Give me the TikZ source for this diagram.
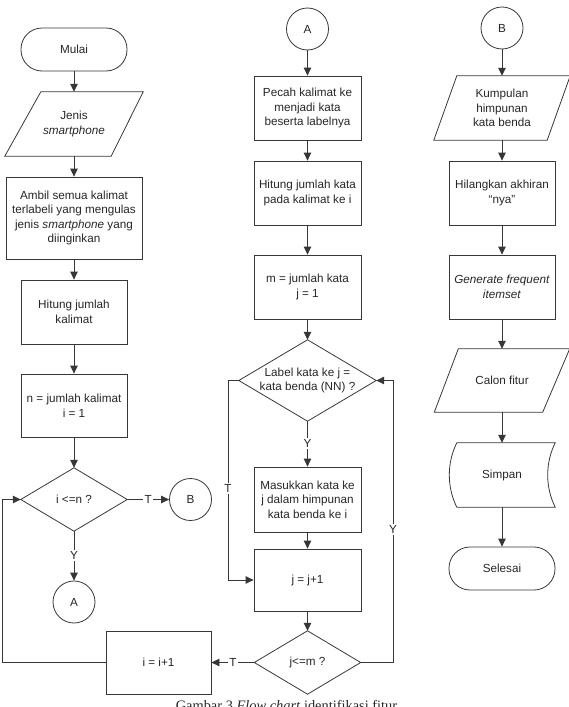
\documentclass[tikz,border=0pt]{standalone}
\usepackage{fontspec}
\setmainfont{Liberation Sans}
\newfontfamily\capfont{Liberation Serif}
\usetikzlibrary{arrows.meta}
\definecolor{linec}{RGB}{55,55,55}
\tikzset{
  base/.style={inner sep=0pt, align=center, font=\fontsize{11.7}{14.6}\selectfont, text=black!85},
  proc/.style={base, rectangle, draw=linec, line width=0.8pt},
  term/.style={base, rectangle, draw=linec, line width=0.8pt, rounded corners=21pt, minimum width=106pt, minimum height=43pt},
  conn/.style={base, circle, draw=linec, line width=0.8pt, minimum size=42pt},
  shell/.style={base, rectangle},
  outl/.style={draw=linec, line width=0.8pt},
  arr/.style={draw=linec, line width=0.8pt, -{Triangle[length=8pt,width=7.5pt]}},
  lab/.style={base, fill=white, inner sep=1.5pt},
}
\begin{document}
\begin{tikzpicture}[x=1pt,y=-1pt]
\useasboundingbox (0,0) rectangle (569,707);
% ---------- left column
\node[term] (mulai) at (74,49.5) {Mulai};
\node[shell, minimum width=138pt, minimum height=64pt] (jenis) at (74,124) {Jenis\\\textit{smartphone}};
\node[proc, minimum width=136pt, minimum height=82pt] (ambil) at (74,218) {Ambil semua kalimat\\terlabeli yang mengulas\\jenis \textit{smartphone} yang\\diinginkan};
\node[proc, minimum width=106pt, minimum height=64pt] (hitung) at (74,312) {Hitung jumlah\\kalimat};
\node[proc, minimum width=106pt, minimum height=63pt] (nset) at (74,405.5) {n = jumlah kalimat\\i = 1};
\node[shell, minimum width=106pt, minimum height=63pt] (dec1) at (74,499.5) {i <=n ?};
\node[conn] (conB1) at (190.5,499.5) {B};
\node[conn] (conA1) at (74,602) {A};
\node[proc, minimum width=105pt, minimum height=63pt] (iinc) at (158.5,662.5) {i = i+1};
% ---------- middle column
\node[conn] (conA2) at (307.5,29) {A};
\node[proc, minimum width=107pt, minimum height=64pt] (pecah) at (307.5,108) {Pecah kalimat ke\\menjadi kata\\beserta labelnya};
\node[proc, minimum width=107pt, minimum height=64pt] (hitkata) at (307.5,193) {Hitung jumlah kata\\pada kalimat ke i};
\node[proc, minimum width=107pt, minimum height=64pt] (mset) at (307.5,287) {m = jumlah kata\\j = 1};
\node[shell, minimum width=137pt, minimum height=81pt] (dec2) at (307.5,380.5) {Label kata ke j =\\kata benda (NN) ?};
\node[proc, minimum width=107pt, minimum height=65pt] (masuk) at (307.5,499.5) {Masukkan kata ke\\j dalam himpunan\\kata benda ke i};
\node[proc, minimum width=107pt, minimum height=62pt] (jinc) at (307.5,580) {j = j+1};
\node[shell, minimum width=106pt, minimum height=63pt] (dec3) at (307.5,662.5) {j<=m ?};
% ---------- right column
\node[conn] (conB2) at (502,28) {B};
\node[shell, minimum width=136pt, minimum height=64pt] (kumpul) at (502,108) {Kumpulan\\himpunan\\kata benda};
\node[proc, minimum width=106pt, minimum height=64pt] (hilang) at (502,193) {Hilangkan akhiran\\“nya”};
\node[proc, minimum width=106pt, minimum height=64pt] (gen) at (502,287) {\textit{Generate frequent}\\\textit{itemset}};
\node[shell, minimum width=135pt, minimum height=63pt] (calon) at (502,380.5) {Calon fitur};
\node[shell, minimum width=106pt, minimum height=64pt] (simpan) at (502,475) {Simpan};
\node[term] (selesai) at (502,568.5) {Selesai};
% ---------- caption
\node[inner sep=0pt, anchor=base, font=\capfont\fontsize{14.4}{16}\selectfont, text=black!85] (cap) at (286.5,710.5) {Gambar 3 \textit{Flow chart} identifikasi fitur};
% ---------- outlines of diamonds, parallelograms, stored data
\foreach \n in {dec1,dec2,dec3}
  \draw[outl] (\n.north) -- (\n.east) -- (\n.south) -- (\n.west) -- cycle;
\draw[outl] (jenis.south west) -- ([xshift=36pt]jenis.north west) -- (jenis.north east) -- ([xshift=-32pt]jenis.south east) -- cycle;
\draw[outl] (kumpul.south west) -- ([xshift=23pt]kumpul.north west) -- (kumpul.north east) -- ([xshift=-23pt]kumpul.south east) -- cycle;
\draw[outl] (calon.south west) -- ([xshift=24pt]calon.north west) -- (calon.north east) -- ([xshift=-27pt]calon.south east) -- cycle;
\draw[outl] ([xshift=8pt]simpan.north west) -- (simpan.north east)
  .. controls ([xshift=-10pt,yshift=-20pt]simpan.north east) and ([xshift=-10pt,yshift=20pt]simpan.south east) .. (simpan.south east)
  -- ([xshift=8pt]simpan.south west)
  .. controls ([xshift=-2pt,yshift=20pt]simpan.south west) and ([xshift=-2pt,yshift=-20pt]simpan.north west) .. ([xshift=8pt]simpan.north west) -- cycle;
% ---------- connectors, left column
\draw[arr] (mulai) -- (jenis);
\draw[arr] (jenis) -- (ambil);
\draw[arr] (ambil) -- (hitung);
\draw[arr] (hitung) -- (nset);
\draw[arr] (nset) -- (dec1);
\draw[arr] (dec1.east) -- node[lab]{T} (conB1);
\draw[arr] (dec1.south) -- node[lab]{Y} (conA1);
\coordinate (loopc) at (2,662.5);
\draw[arr] (iinc.west) -- (loopc) |- (dec1.west);
% ---------- connectors, middle column
\draw[arr] (conA2) -- (pecah);
\draw[arr] (pecah) -- (hitkata);
\draw[arr] (hitkata) -- (mset);
\draw[arr] (mset) -- (dec2.north);
\draw[arr] (dec2.south) -- node[lab]{Y} (masuk);
\draw[arr] (masuk) -- (jinc);
\draw[arr] (jinc) -- (dec3.north);
\coordinate (tcorner) at (228,380.5);
\draw[arr] (dec2.west) -- (tcorner) |- node[lab, pos=0.27]{T} (jinc.west);
\coordinate (ycorner) at (393,662.5);
\draw[arr] (dec3.east) -- (ycorner) |- node[lab, pos=0.235]{Y} (dec2.east);
\draw[arr] (dec3.west) -- node[lab]{T} (iinc.east);
% ---------- connectors, right column
\draw[arr] (conB2) -- (kumpul);
\draw[arr] (kumpul) -- (hilang);
\draw[arr] (hilang) -- (gen);
\draw[arr] (gen) -- (calon);
\draw[arr] (calon) -- (simpan);
\draw[arr] (simpan) -- (selesai);
\end{tikzpicture}
\end{document}
